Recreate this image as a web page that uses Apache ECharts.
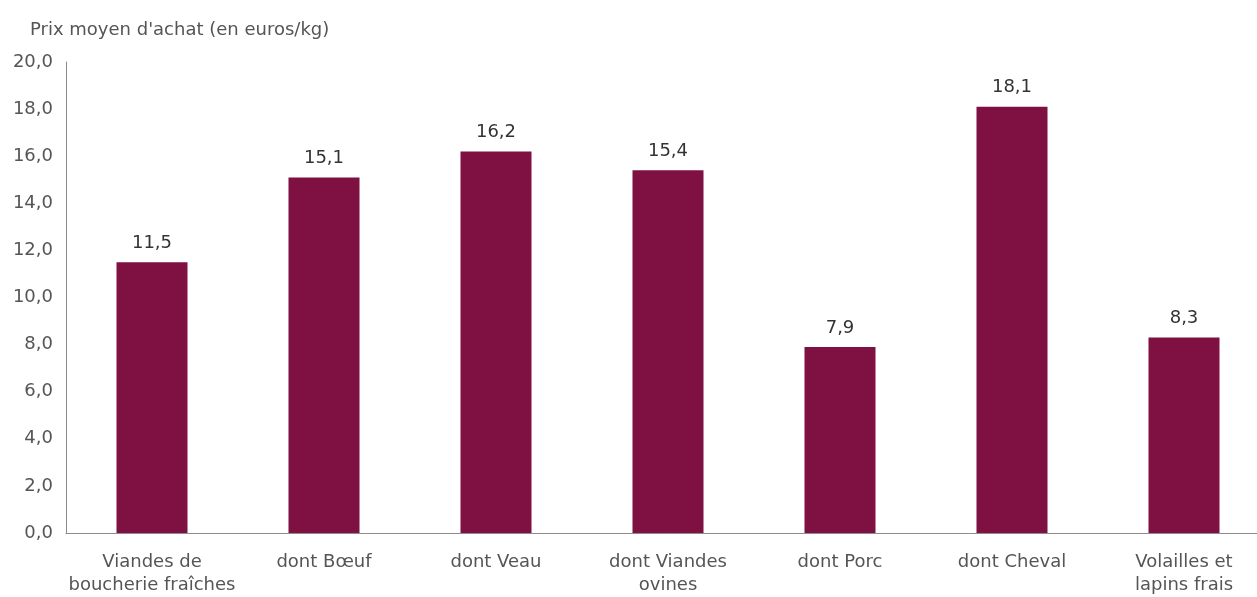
<!DOCTYPE html>
<html><head><meta charset="utf-8">
<script src="https://cdn.jsdelivr.net/npm/echarts@6/dist/echarts.min.js"></script>
<style>html,body{margin:0;padding:0;background:#fff;overflow:hidden}#w{width:1257px;height:597px;overflow:hidden;position:relative}#c{width:1270px;height:597px;position:absolute;left:0;top:0}</style>
</head><body><div id="w"><div id="c"></div></div>
<script>
const categories = ["Viandes de\nboucherie fraîches","dont Bœuf","dont Veau","dont Viandes\novines","dont Porc","dont Cheval","Volailles et\nlapins frais"];
const values = [11.5, 15.1, 16.2, 15.4, 7.9, 18.1, 8.3];
const yTitle = "Prix moyen d'achat (en euros/kg)";
const fmt = v => v.toFixed(1).replace('.', ',');
const chart = echarts.init(document.getElementById('c'));
const FONT = "DejaVu Sans";
chart.setOption({
  animation:false,
  title:{text:yTitle,left:25,top:16,textStyle:{fontFamily:FONT,fontSize:18,fontWeight:'normal',color:'#555'}},
  grid:{left:66,top:62,right:0,bottom:58,containLabel:false},
  xAxis:{type:'category',data:categories,
    axisLine:{lineStyle:{color:'#8c8c8c',width:1}},axisTick:{show:false},
    axisLabel:{fontFamily:FONT,fontSize:18,color:'#555',margin:18,lineHeight:23,interval:0}},
  yAxis:{type:'value',min:0,max:20,interval:2,
    axisLine:{show:true,lineStyle:{color:'#8c8c8c',width:1}},axisTick:{show:false},splitLine:{show:false},
    axisLabel:{fontFamily:FONT,fontSize:18,color:'#555',margin:13,formatter:v=>fmt(v)}},
  series:[{type:'bar',data:values,barWidth:71,itemStyle:{color:'#7f1042'},
    label:{show:true,position:'top',distance:10,fontFamily:FONT,fontSize:18,color:'#333',formatter:p=>fmt(p.value)}}]
});
</script></body></html>
